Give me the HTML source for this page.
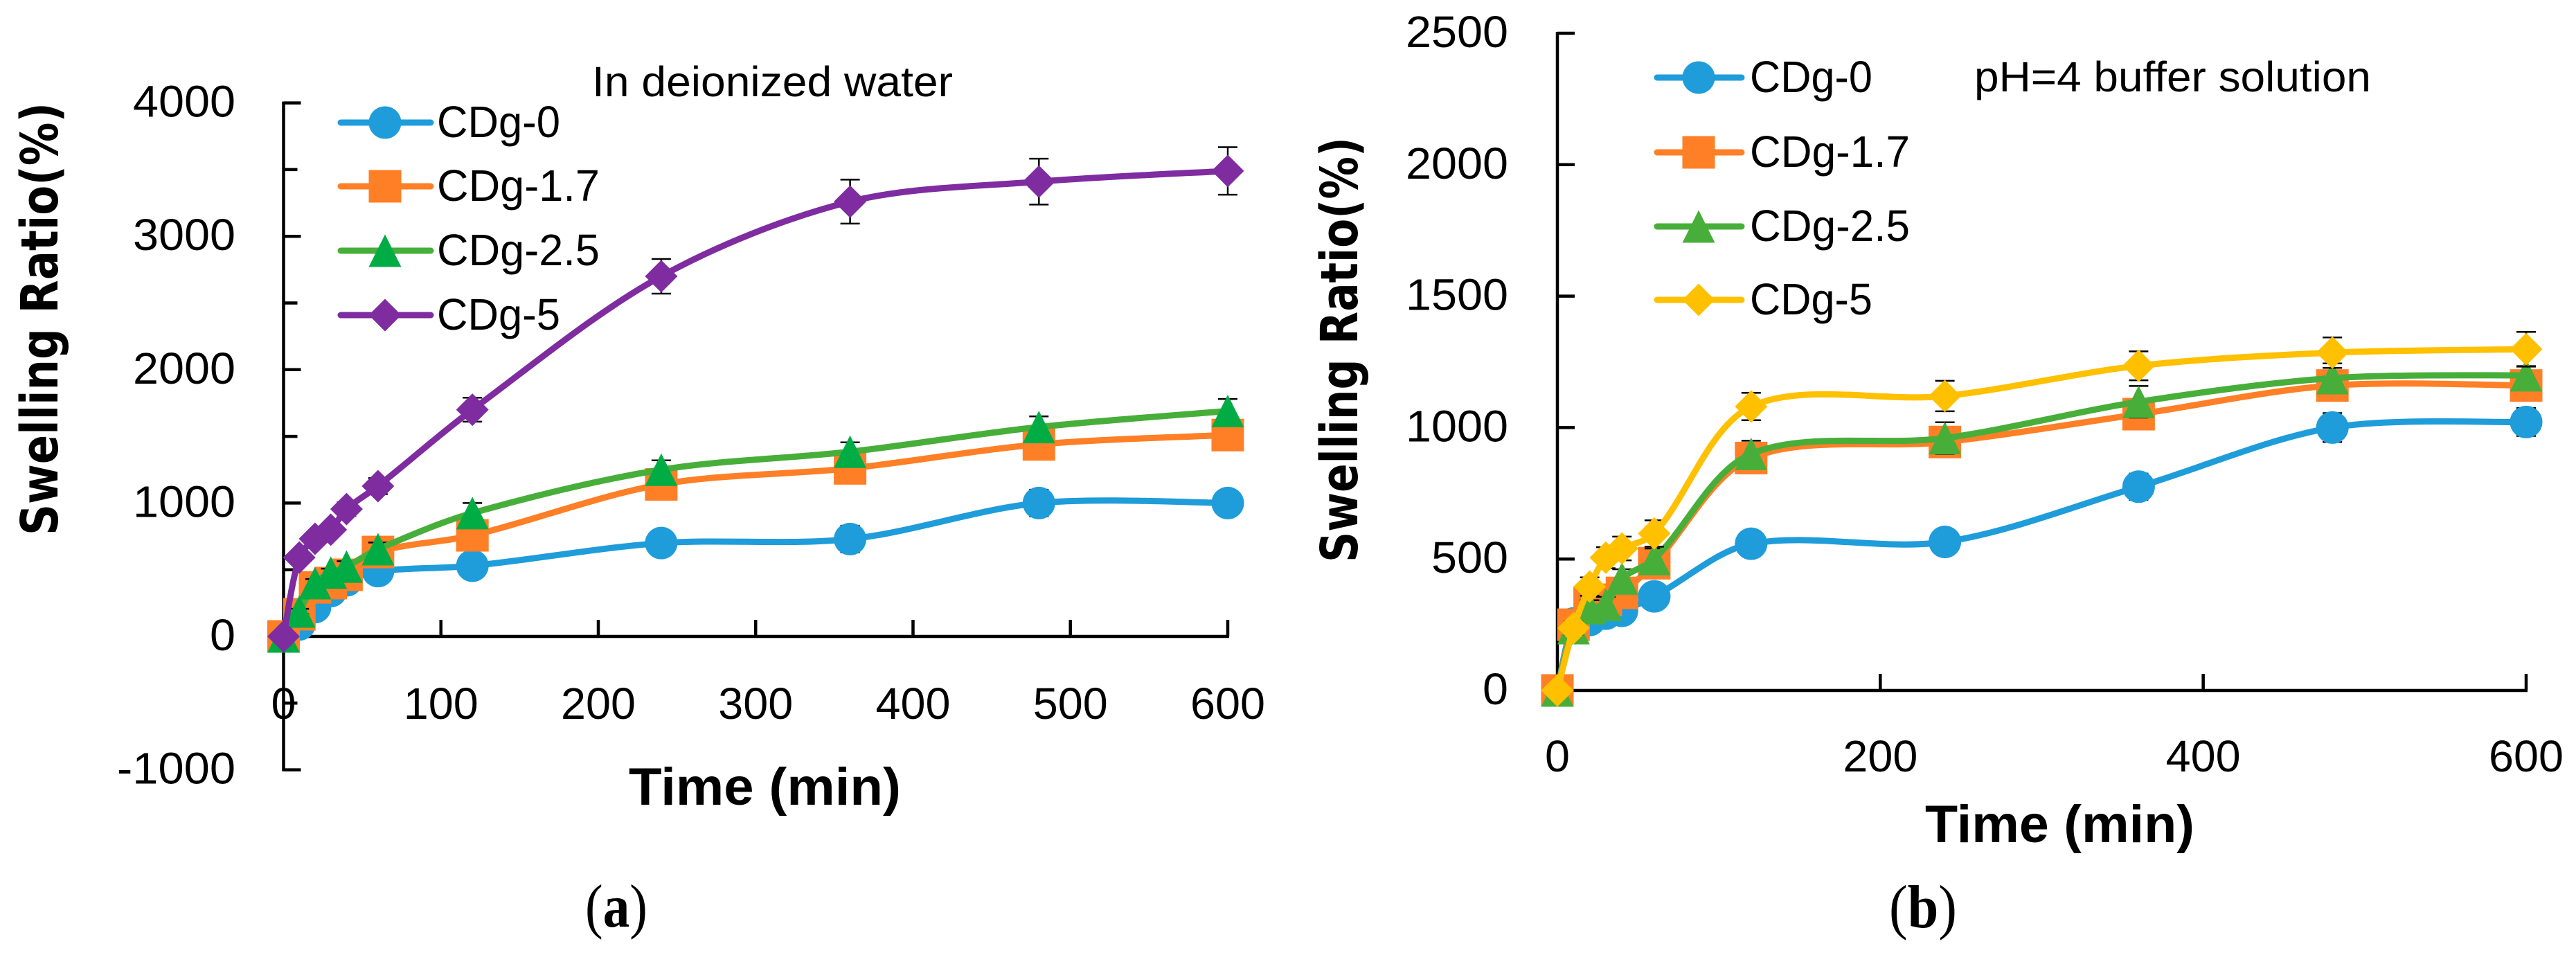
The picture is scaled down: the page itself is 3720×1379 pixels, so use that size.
<!DOCTYPE html>
<html lang="en">
<head>
<meta charset="utf-8">
<title>Swelling ratio charts</title>
<style>
html,body{margin:0;padding:0;background:#fff;}
svg{display:block;}
text{font-family:"Liberation Sans",sans-serif;fill:#000;}
</style>
</head>
<body>
<svg id="figure" xmlns="http://www.w3.org/2000/svg" width="3720" height="1379" viewBox="0 0 3720 1379">
  <rect x="0" y="0" width="3720" height="1379" fill="#fff"/>
  <g id="panel-a"></g>
  <g id="panel-b"></g>

  <text x="855" y="139" font-size="61" textLength="521" lengthAdjust="spacingAndGlyphs">In deionized water</text>
  <text x="908" y="1162" font-size="76" font-weight="bold" textLength="393" lengthAdjust="spacingAndGlyphs">Time (min)</text>
  <text transform="translate(83,773) rotate(-90)" style="font-family:'DejaVu Sans',sans-serif" font-size="74" font-weight="bold" textLength="625" lengthAdjust="spacingAndGlyphs">Swelling Ratio(%)</text>
  <text x="845" y="1338" style="font-family:'Liberation Serif',serif" font-size="88" textLength="90" lengthAdjust="spacingAndGlyphs">(<tspan font-weight="bold">a</tspan>)</text>

  <text x="2851" y="132" font-size="61" textLength="573" lengthAdjust="spacingAndGlyphs">pH=4 buffer solution</text>
  <text x="2780" y="1216" font-size="76" font-weight="bold" textLength="389" lengthAdjust="spacingAndGlyphs">Time (min)</text>
  <text transform="translate(1960,812) rotate(-90)" style="font-family:'DejaVu Sans',sans-serif" font-size="74" font-weight="bold" textLength="614" lengthAdjust="spacingAndGlyphs">Swelling Ratio(%)</text>
  <text x="2728" y="1339" style="font-family:'Liberation Serif',serif" font-size="88" textLength="98" lengthAdjust="spacingAndGlyphs">(<tspan font-weight="bold">b</tspan>)</text>
</svg>

<script>
// ---------- shared data ----------
const seriesNames = ['CDg-0', 'CDg-1.7', 'CDg-2.5', 'CDg-5'];
const timePoints = [0, 10, 20, 30, 40, 60, 120, 240, 360, 480, 600];

// ---------- panel (a): deionized water ----------
const aTicksY = [4000, 3000, 2000, 1000, 0, -1000];
const aMinorTicksY = [3500, 2500, 1500, 500, -500];
const aTicksX = [0, 100, 200, 300, 400, 500, 600];

const aCDg0 = [0, 90, 220, 340, 420, 490, 530, 700, 730, 1000, 1000];
const aCDg17 = [0, 166, 368, 400, 462, 633, 758, 1140, 1260, 1440, 1510];
const aCDg25 = [0, 187, 400, 478, 524, 654, 925, 1250, 1385, 1570, 1690];
const aCDg5 = [0, 592, 732, 800, 955, 1127, 1700, 2700, 3260, 3410, 3490];

const aErr0 = [0, 20, 30, 30, 40, 50, 70, 90, 100, 100, 90];
const aErr17 = [0, 20, 30, 30, 40, 50, 60, 80, 80, 90, 90];
const aErr25 = [0, 20, 30, 30, 40, 50, 75, 70, 70, 80, 90];
const aErr5 = [0, 30, 40, 40, 50, 60, 90, 130, 165, 172, 178];

// ---------- panel (b): pH=4 buffer ----------
const bTicksY = [2500, 2000, 1500, 1000, 500, 0];
const bMinorTicksY = [];
const bTicksX = [0, 200, 400, 600];

const bCDg0 = [0, 255, 268, 292, 303, 358, 558, 565, 775, 1000, 1021];
const bCDg17 = [0, 250, 334, 345, 371, 484, 884, 945, 1051, 1160, 1160];
const bCDg25 = [0, 237, 313, 326, 426, 500, 900, 960, 1098, 1188, 1199];
const bCDg5 = [0, 237, 395, 505, 540, 597, 1080, 1120, 1235, 1285, 1298];

const bErr0 = [0, 20, 20, 20, 25, 30, 40, 45, 50, 55, 53];
const bErr17 = [0, 20, 25, 25, 30, 35, 45, 50, 50, 50, 50];
const bErr25 = [0, 20, 30, 30, 35, 40, 50, 60, 60, 56, 35];
const bErr5 = [0, 25, 35, 40, 45, 50, 52, 58, 55, 58, 66];

// ---------- styling ----------
const blue = '#1F9CDA', orange = '#FF7F27', green = '#47AE3A', greenMark = '#02AC44', purple = '#7F2CA0', gold = '#FFC000';
const NS = 'http://www.w3.org/2000/svg';

function make(tag, parent, attrs) {
  const node = document.createElementNS(NS, tag);
  for (const k in attrs) node.setAttribute(k, attrs[k]);
  parent.appendChild(node);
  return node;
}

function smoothPath(pts) {
  let d = 'M' + pts[0][0] + ' ' + pts[0][1];
  const tan = i => {
    const a = pts[Math.max(i - 1, 0)], b = pts[Math.min(i + 1, pts.length - 1)];
    return [b[0] - a[0], b[1] - a[1]];
  };
  const dist = (p, q) => Math.hypot(p[0] - q[0], p[1] - q[1]);
  for (let i = 0; i < pts.length - 1; i++) {
    const p = pts[i], q = pts[i + 1];
    const len = dist(p, q);
    const prev = i > 0 ? dist(pts[i - 1], p) : len;
    const next = i < pts.length - 2 ? dist(q, pts[i + 2]) : len;
    const t0 = tan(i), t1 = tan(i + 1);
    const k0 = 0.32 * len / (prev + len), k1 = 0.32 * len / (next + len);
    d += 'C' + (p[0] + t0[0] * k0) + ' ' + (p[1] + t0[1] * k0) + ' ' +
         (q[0] - t1[0] * k1) + ' ' + (q[1] - t1[1] * k1) + ' ' + q[0] + ' ' + q[1];
  }
  return d;
}

function marker(parent, kind, cx, cy, color) {
  const r = 23.5;
  let node;
  if (kind === 'circle') {
    node = make('circle', parent, {cx: cx, cy: cy, r: r, fill: color});
    
    
  } else if (kind === 'square') {
    node = make('rect', parent, {x: cx - r, y: cy - r, width: 2 * r, height: 2 * r, fill: color});
    
    
  } else if (kind === 'triangle') {
    node = make('polygon', parent, {points: [cx, cy - r, cx + r, cy + r, cx - r, cy + r].join(' '), fill: color});
    
    
  } else {
    node = make('polygon', parent, {points: [cx, cy - r, cx + r, cy, cx, cy + r, cx - r, cy].join(' '), fill: color});
    
    
  }
}

function drawPanel(cfg) {
  const root = document.getElementById(cfg.id);
  const sx = v => cfg.x0 + (v - cfg.xMin) / (cfg.xMax - cfg.xMin) * (cfg.x1 - cfg.x0);
  const sy = v => cfg.yZero - v * cfg.pxPerUnit;
  const ax = make('g', root, {stroke: '#000', 'stroke-width': 4.5, fill: 'none'});
  
  

  const yAxis = make('line', ax, {x1: sx(0), x2: sx(0), y1: sy(cfg.ticksY[0]) - 2, y2: sy(cfg.ticksY[cfg.ticksY.length - 1]) + 2});
  
  
  const xAxis = make('line', ax, {x1: sx(0), x2: sx(600) + 2, y1: sy(0), y2: sy(0)});
  
  

  cfg.ticksY.forEach(v => {
    if (v !== 0) {
      const t = make('line', ax, {x1: sx(0), x2: sx(0) + 25, y1: sy(v), y2: sy(v)});
      
      
    }
    const lab = make('text', root, {x: cfg.yLabelRight, y: sy(v) + 20, 'font-size': 64, 'text-anchor': 'end', textLength: (String(v).length * 37 - (v < 0 ? 14 : 0)), lengthAdjust: 'spacingAndGlyphs'});
    lab.textContent = String(v);
    
    
  });
  cfg.minorY.forEach(v => {
    const t = make('line', ax, {x1: sx(0), x2: sx(0) + 20, y1: sy(v), y2: sy(v)});
    
    
  });
  cfg.ticksX.forEach(v => {
    if (v !== 0) {
      const t = make('line', ax, {x1: sx(v), x2: sx(v), y1: sy(0), y2: sy(0) - 24});
      
      
    }
    const lab = make('text', root, {x: sx(v), y: cfg.xLabelY, 'font-size': 64, 'text-anchor': 'middle', textLength: String(v).length * 36, lengthAdjust: 'spacingAndGlyphs'});
    lab.textContent = String(v);
    
    
  });

  cfg.series.forEach((s, si) => {
    const g = make('g', root, {});
    
    
    const pts = timePoints.map((t, i) => [sx(t), sy(s.values[i])]);
    timePoints.forEach((t, i) => {
      if (!s.errors[i]) return;
      const x = sx(t), yTop = sy(s.values[i] + s.errors[i]), yBot = sy(s.values[i] - s.errors[i]);
      const eb = make('path', g, {d: 'M' + x + ' ' + yTop + 'V' + yBot + 'M' + (x - 14) + ' ' + yTop + 'h28M' + (x - 14) + ' ' + yBot + 'h28', stroke: '#000', 'stroke-width': 2.5, fill: 'none'});
      
      
    });
    const line = make('path', g, {d: smoothPath(pts), stroke: s.color, 'stroke-width': 9, fill: 'none', 'stroke-linecap': 'round', 'stroke-linejoin': 'round'});
    
    
    pts.forEach(p => marker(g, s.kind, p[0], p[1], s.markColor));

    const ly = cfg.legendY[si];
    const leg = make('g', root, {});
    
    
    const sw = make('line', leg, {x1: cfg.legendX0, x2: cfg.legendX1, y1: ly, y2: ly, stroke: s.color, 'stroke-width': 9, 'stroke-linecap': 'round'});
    
    
    marker(leg, s.kind, (cfg.legendX0 + cfg.legendX1) / 2 - 1, ly, s.markColor);
    const lt = make('text', leg, {x: cfg.legendTextX, y: ly + 21, 'font-size': 64, textLength: cfg.legendW[si], lengthAdjust: 'spacingAndGlyphs'});
    lt.textContent = seriesNames[si];
    
    
  });
}

drawPanel({
  id: 'panel-a', x0: 409.5, x1: 1773, xMin: 0, xMax: 600, yZero: 919, pxPerUnit: 0.1926,
  ticksY: aTicksY, minorY: aMinorTicksY, ticksX: aTicksX,
  yLabelRight: 340, xLabelY: 1038,
  legendX0: 492, legendX1: 622, legendTextX: 631, legendY: [177, 269, 362, 455], legendW: [178, 235, 235, 178],
  series: [
    {values: aCDg0, errors: aErr0, color: blue, markColor: blue, kind: 'circle'},
    {values: aCDg17, errors: aErr17, color: orange, markColor: orange, kind: 'square'},
    {values: aCDg25, errors: aErr25, color: green, markColor: greenMark, kind: 'triangle'},
    {values: aCDg5, errors: aErr5, color: purple, markColor: purple, kind: 'diamond'}
  ]
});

drawPanel({
  id: 'panel-b', x0: 2249, x1: 3648, xMin: 0, xMax: 600, yZero: 997, pxPerUnit: 0.3796,
  ticksY: bTicksY, minorY: bMinorTicksY, ticksX: bTicksX,
  yLabelRight: 2178, xLabelY: 1114,
  legendX0: 2393, legendX1: 2515, legendTextX: 2527, legendY: [112, 220, 327, 433], legendW: [177, 231, 231, 177],
  series: [
    {values: bCDg0, errors: bErr0, color: blue, markColor: blue, kind: 'circle'},
    {values: bCDg17, errors: bErr17, color: orange, markColor: orange, kind: 'square'},
    {values: bCDg25, errors: bErr25, color: green, markColor: green, kind: 'triangle'},
    {values: bCDg5, errors: bErr5, color: gold, markColor: gold, kind: 'diamond'}
  ]
});
</script>
</body>
</html>
